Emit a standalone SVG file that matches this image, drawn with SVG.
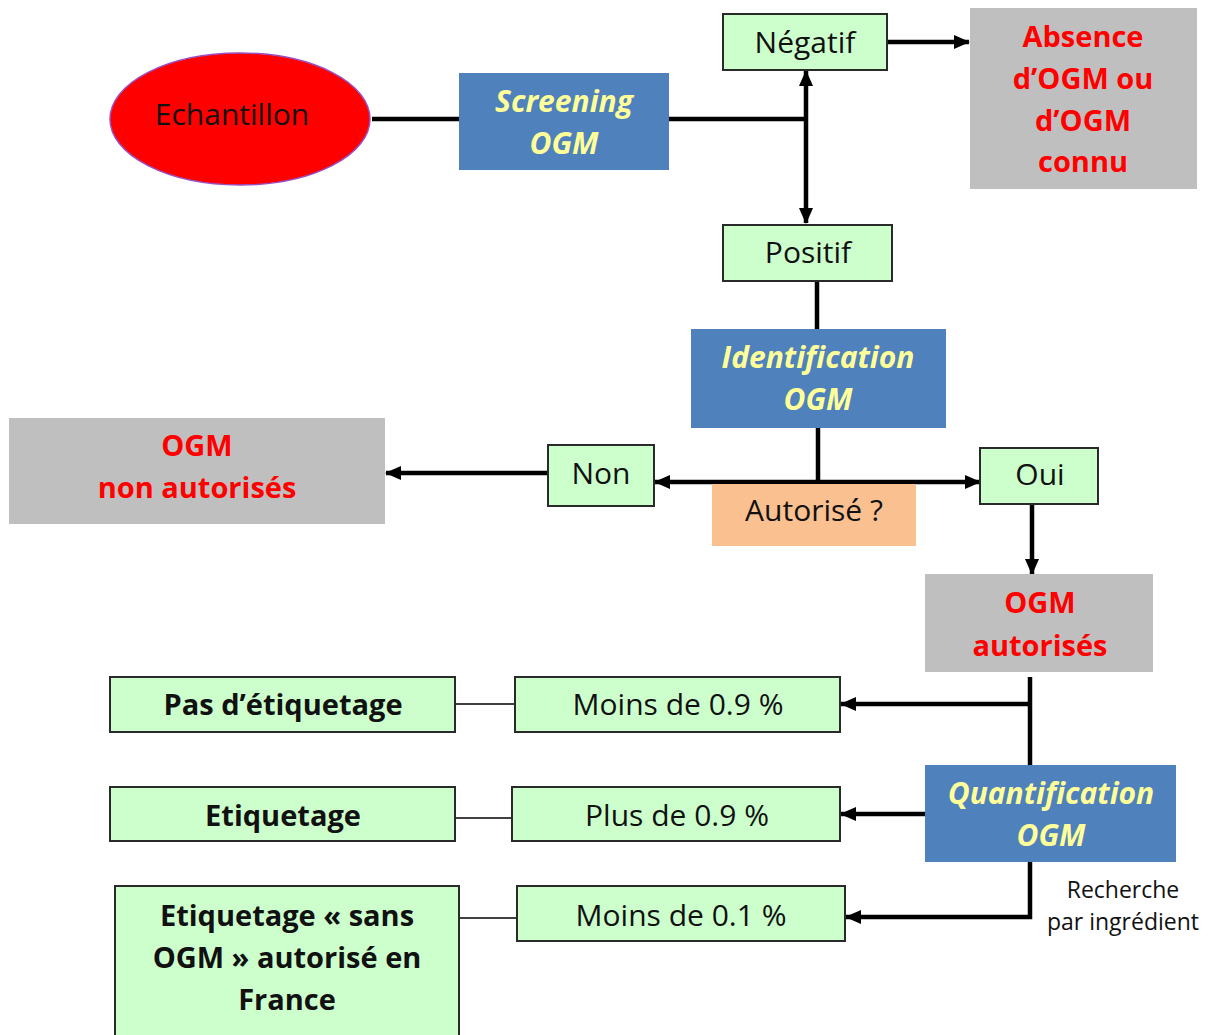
<svg xmlns="http://www.w3.org/2000/svg" width="1212" height="1035" viewBox="0 0 1212 1035">
<defs>
<marker id="ah" markerUnits="userSpaceOnUse" markerWidth="16" markerHeight="14" refX="15" refY="7" orient="auto-start-reverse">
<path d="M0,0 L16,7 L0,14 Z" fill="#000"/>
</marker>
</defs>
<style>
.g{fill:#CCFFCC;stroke:#2a2a2a;stroke-width:2}
.b{fill:#4F81BD}
.gr{fill:#BFBFBF}
.t{font-family:"Open Sans",Lato,sans-serif;font-size:30px;fill:#111;text-anchor:middle}
.tb{font-family:"Open Sans",Lato,sans-serif;font-size:29px;font-weight:bold;fill:#111;text-anchor:middle}
.ty{font-family:"Open Sans",Lato,sans-serif;font-size:30px;font-weight:bold;font-style:italic;fill:#FFFF99;text-anchor:middle}
.tr{font-family:"Open Sans",Lato,sans-serif;font-size:29px;font-weight:bold;fill:#FF0000;text-anchor:middle}
.k{stroke:#000;stroke-width:4.5;fill:none}
.kt{stroke:#000;stroke-width:1.5;fill:none}
</style>
<rect width="1212" height="1035" fill="#fff"/>
<g id="connectors">
<line class="k" x1="372" y1="119" x2="459" y2="119"/>
<line class="k" x1="669" y1="119" x2="806" y2="119"/>
<line class="k" x1="806" y1="71" x2="806" y2="223" marker-start="url(#ah)" marker-end="url(#ah)"/>
<line class="k" x1="887" y1="42" x2="969" y2="42" marker-end="url(#ah)"/>
<line class="k" x1="817" y1="281" x2="817" y2="329"/>
<line class="k" x1="818" y1="428" x2="818" y2="482"/>
<line class="k" x1="655" y1="482" x2="980" y2="482" marker-start="url(#ah)" marker-end="url(#ah)"/>
<line class="k" x1="548" y1="473" x2="386" y2="473" marker-end="url(#ah)"/>
<line class="k" x1="1032" y1="504" x2="1032" y2="574" marker-end="url(#ah)"/>
<line class="k" x1="1030" y1="677" x2="1030" y2="765"/>
<line class="k" x1="1030" y1="704" x2="841" y2="704" marker-end="url(#ah)"/>
<line class="k" x1="925" y1="814" x2="841" y2="814" marker-end="url(#ah)"/>
<polyline class="k" points="1030,862 1030,917 846,917" marker-end="url(#ah)"/>
<line class="kt" x1="455" y1="704" x2="515" y2="704"/>
<line class="kt" x1="455" y1="818" x2="512" y2="818"/>
<line class="kt" x1="459" y1="918" x2="517" y2="918"/>
</g>
<g id="echantillon">
<ellipse cx="240" cy="119" rx="130" ry="66" fill="#FF0000" stroke="#9A4FC0" stroke-width="1.5"/>
<text class="t" x="232" y="125">Echantillon</text>
</g>
<g id="screening">
<rect class="b" x="459" y="73" width="210" height="97"/>
<text class="ty" x="564" y="112">Screening</text>
<text class="ty" x="564" y="154">OGM</text>
</g>
<g id="negatif">
<rect class="g" x="723" y="14" width="164" height="56"/>
<text class="t" x="805" y="53">Négatif</text>
</g>
<g id="absence">
<rect class="gr" x="970" y="8" width="227" height="181"/>
<text class="tr" x="1083" y="47">Absence</text>
<text class="tr" x="1083" y="89">d’OGM ou</text>
<text class="tr" x="1083" y="131">d’OGM</text>
<text class="tr" x="1083" y="172">connu</text>
</g>
<g id="positif">
<rect class="g" x="723" y="225" width="169" height="56"/>
<text class="t" x="808" y="263">Positif</text>
</g>
<g id="identification">
<rect class="b" x="691" y="329" width="255" height="99"/>
<text class="ty" x="818" y="368">Identification</text>
<text class="ty" x="818" y="410">OGM</text>
</g>
<g id="autorise">
<rect x="712" y="484" width="204" height="62" fill="#FAC090"/>
<text class="t" x="814" y="521">Autorisé ?</text>
</g>
<g id="non">
<rect class="g" x="548" y="445" width="106" height="61"/>
<text class="t" x="601" y="484">Non</text>
</g>
<g id="non-autorises">
<rect class="gr" x="9" y="418" width="376" height="106"/>
<text class="tr" x="197" y="456">OGM</text>
<text class="tr" x="197" y="498">non autorisés</text>
</g>
<g id="oui">
<rect class="g" x="980" y="448" width="118" height="56"/>
<text class="t" x="1040" y="485">Oui</text>
</g>
<g id="autorises">
<rect class="gr" x="925" y="574" width="228" height="98"/>
<text class="tr" x="1040" y="613">OGM</text>
<text class="tr" x="1040" y="656">autorisés</text>
</g>
<g id="quantification">
<rect class="b" x="925" y="765" width="251" height="97"/>
<text class="ty" x="1051" y="804">Quantification</text>
<text class="ty" x="1051" y="846">OGM</text>
</g>
<g id="recherche">
<text class="t" style="font-size:23px" x="1123" y="898">Recherche</text>
<text class="t" style="font-size:23px" x="1123" y="930">par ingrédient</text>
</g>
<g id="moins09">
<rect class="g" x="515" y="677" width="325" height="55"/>
<text class="t" x="678" y="715">Moins de 0.9 %</text>
</g>
<g id="pas-etiquetage">
<rect class="g" x="110" y="677" width="345" height="55"/>
<text class="tb" x="283" y="715">Pas d’étiquetage</text>
</g>
<g id="plus09">
<rect class="g" x="512" y="787" width="328" height="54"/>
<text class="t" x="677" y="826">Plus de 0.9 %</text>
</g>
<g id="etiquetage">
<rect class="g" x="110" y="787" width="345" height="54"/>
<text class="tb" x="283" y="826">Etiquetage</text>
</g>
<g id="moins01">
<rect class="g" x="517" y="886" width="328" height="55"/>
<text class="t" x="681" y="926">Moins de 0.1 %</text>
</g>
<g id="sans-ogm">
<rect class="g" x="115" y="886" width="344" height="152"/>
<text class="tb" x="287" y="926">Etiquetage « sans</text>
<text class="tb" x="287" y="968">OGM » autorisé en</text>
<text class="tb" x="287" y="1010">France</text>
</g>
</svg>
